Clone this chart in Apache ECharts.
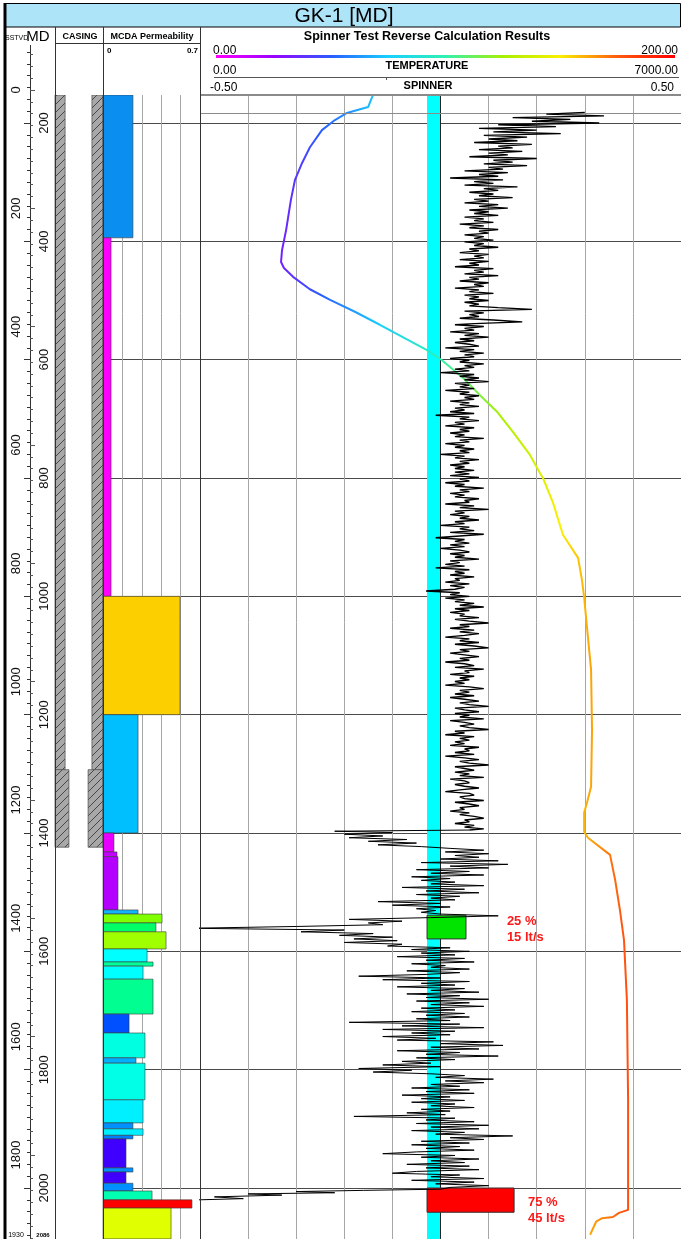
<!DOCTYPE html>
<html>
<head>
<meta charset="utf-8">
<title>GK-1 [MD]</title>
<script src="https://cdn.jsdelivr.net/npm/echarts@6/dist/echarts.min.js"></script>
<style>
  html, body { margin: 0; padding: 0; background: #fff; }
  #chart { width: 681px; height: 1239px; }
</style>
</head>
<body>
<div id="chart"></div>
<script>
// ---- depth range ----
const logTop = 152.7;
const mdBottom = 2086;
const topMarkerMD = 183;
const shoeMD = 1396;   // spinner gets noisy below the casing shoe

// casing: [top, bottom] and wall thickness as part of the column
const casingTop = [152.7, 1293];
const casingBottom = [1293, 1424];
const casingWallLeft = [0.21, 0.29];
const casingWallRight = [0.23, 0.31];

// MCDA permeability blocks (edges in MD, one value per block)
const mcdaEdges = [152.7, 394, 1000, 1200, 1400, 1432, 1440, 1530, 1537, 1552, 1567, 1596, 1618, 1625,
  1647, 1706, 1738, 1780, 1789, 1851, 1890, 1900, 1911, 1917, 1966, 1973, 1992, 2005, 2020, 2034, 2086];
const mcdaValues = [0.216, 0.058, 0.556, 0.253, 0.079, 0.101, 0.108, 0.253, 0.426, 0.382, 0.455, 0.318, 0.361, 0.289,
  0.361, 0.188, 0.303, 0.238, 0.303, 0.289, 0.216, 0.289, 0.216, 0.166, 0.216, 0.166, 0.216, 0.354, 0.642, 0.491];
const mcdaColors = ['#0a8ff0', '#ff00ff', '#fccf00', '#00bfff', '#e600ff', '#c400ff', '#b400ff', '#12b4ff', '#80ff00', '#00ff66', '#a0ff00', '#00ffff', '#00ff99', '#00ffff',
  '#00ff90', '#0050ff', '#00ffe0', '#00b0ff', '#00ffe6', '#00f0ff', '#0090ff', '#00f0ff', '#0080ff', '#4000ff', '#0090ff', '#4000ff', '#0090ff', '#00ffb0', '#ff0000', '#e0ff00'];

// flow contribution blocks on the spinner track
const cyanBand = [-0.028, 0];
const flowTop = [1539, 2000];
const flowBottom = [1579, 2041];
const flowValue = [0.053, 0.153];
const flowColors = ['#00e400', '#ff0000'];
const flowPercent = ['25 %', '75 %'];
const flowRate = ['15 lt/s', '45 lt/s'];
const flowLabelAt = [[0.138, 1550], [0.182, 2024]];

// temperature curve [MD, value]
const temperaturePoints = [
  [152.7, 71.9], [173, 69.9], [183, 61.1], [195, 56.1], [212, 50.7], [241, 45.7], [268, 42.4], [296, 39.5],
  [330, 37.8], [381, 35.8], [415, 34.1], [435, 33.7], [445, 34.9], [460, 38.7], [481, 45.7], [499, 54.1],
  [519, 64.4], [541, 74.8], [584, 94.4], [601, 100.6], [631, 109.4], [660, 116.4], [688, 123.5], [722, 130.1],
  [761, 137.2], [792, 141.4], [800, 142.6], [842, 146.8], [896, 150.9], [935, 157.2], [972, 158.8], [1001, 159.7],
  [1069, 161.3], [1124, 162.6], [1226, 163.0], [1322, 162.6], [1349, 160.9], [1366, 159.7], [1398, 159.7],
  [1408, 161.3], [1437, 170.5], [1479, 172.6], [1530, 174.6], [1581, 176.3], [1682, 177.5], [1851, 178.0],
  [2037, 178.0], [2042, 174.2], [2049, 171.7], [2051, 167.2], [2057, 164.7], [2079, 162.2]
];

// spinner curve [MD, value]
const spinnerPoints = [
  [182,0.30],[185,0.22],[188,0.34],[191,0.15],[194,0.27],[197,0.19],[200,0.33],[203,0.12],[206,0.24],[209,0.08],[212,0.20],[215,0.11],[218,0.25],[221,0.09],
  [224,0.18],[227,0.10],[230,0.16],[233,0.07],[236,0.19],[239,0.12],[242,0.15],[245,0.08],
  [248,0.17],[251,0.10],[254,0.14],[257,0.06],[260,0.20],[263,0.11],[266,0.15],[269,0.09],[272,0.18],[275,0.10],[278,0.13],[281,0.05],
  [284,0.14],[287,0.08],[290,0.12],[293,0.02],[296,0.13],[299,0.07],[302,0.11],[305,0.05],[308,0.16],[311,0.09],[314,0.12],
  [317,0.06],[320,0.11],[323,0.08],[326,0.15],[329,0.07],[332,0.10],[335,0.05],[338,0.12],[341,0.08],[344,0.14],[347,0.06],
  [350,0.10],[353,0.07],[356,0.12],[359,0.05],[362,0.09],[365,0.07],[368,0.11],[371,0.04],[374,0.09],[377,0.06],[380,0.12],[383,0.08],[386,0.10],[389,0.05],
  [392,0.09],[395,0.07],[398,0.11],
  [401,0.05],[404,0.09],[407,0.07],[410,0.12],[413,0.06],[416,0.08],[419,0.04],[422,0.10],[425,0.07],[428,0.09],[431,0.04],
  [434,0.10],[437,0.06],[440,0.08],[443,0.03],[446,0.11],[449,0.07],[452,0.09],[455,0.05],[458,0.12],[461,0.06],[464,0.08],[467,0.04],[470,0.10],[473,0.07],
  [476,0.09],[479,0.03],[482,0.08],[485,0.06],[488,0.11],[491,0.05],[494,0.08],[497,0.06],[500,0.10],
  [503,0.05],[506,0.08],[509,0.06],[512,0.12],[515,0.19],[518,0.05],[521,0.09],[524,0.06],[527,0.08],[530,0.04],[533,0.11],[536,0.17],[539,0.07],[541,0.03],
  [544,0.09],[547,0.05],[550,0.07],[553,0.02],[556,0.08],[559,0.05],[562,0.10],[565,0.04],[568,0.07],[571,0.03],[574,0.06],[577,0.08],[580,0.01],[583,0.07],
  [586,0.04],[589,0.09],[592,0.05],[595,0.07],[598,0.02],[601,0.06],
  [604,0.04],[607,0.09],[610,0.05],[613,0.07],[616,0.03],[619,0.06],[622,0.00],[625,0.07],[628,0.04],[631,0.08],[634,0.05],[637,0.10],[640,0.03],[643,0.06],
  [646,0.04],[649,0.07],[652,0.01],[655,0.06],[658,0.04],[661,0.08],[664,0.05],[667,0.07],[670,0.02],
  [673,0.06],[676,0.04],[679,0.08],[682,0.03],[685,0.05],[688,0.02],[691,0.07],[694,-0.01],[697,0.06],[700,0.04],[703,0.08],[706,0.03],[709,0.05],[712,0.01],
  [715,0.07],[718,0.04],[721,0.06],[724,0.02],[727,0.05],[730,0.03],[733,0.09],[736,0.04],[739,0.06],[742,0.01],[745,0.05],[748,0.03],[751,0.07],[754,0.04],
  [757,0.06],[760,0.00],[763,0.05],[766,0.03],[769,0.08],[772,0.04],[775,0.06],[778,0.02],[781,0.05],[784,0.03],[787,0.07],
  [790,0.03],[793,0.06],[796,0.02],[799,0.08],[802,0.04],[805,0.06],[808,0.01],[811,0.05],[814,0.03],[817,0.09],[820,0.04],[823,0.06],[826,0.02],[829,0.05],
  [832,0.03],[835,0.08],[838,0.05],[841,0.06],[844,0.01],[847,0.07],[850,0.04],[853,0.10],[856,0.03],[859,0.05],[862,0.02],[865,0.06],[868,0.04],[871,0.08],
  [874,0.03],[877,0.05],[880,0.00],[883,0.06],[886,0.04],[889,0.07],[892,0.02],[895,0.09],[898,0.04],[901,-0.01],[904,0.05],
  [907,0.03],[910,0.06],[913,0.02],[916,0.05],[919,0.00],[922,0.04],[925,0.06],[928,0.02],[931,0.05],[934,0.03],[937,0.08],[940,0.02],[943,0.04],[946,0.01],
  [949,0.05],[952,-0.01],[955,0.06],[958,0.03],[961,0.05],[964,0.02],[967,0.07],[970,0.03],[973,0.04],[976,0.01],[979,0.06],[982,0.02],[985,0.05],[988,0.03],
  [991,-0.03],[994,0.04],[997,0.02],[1000,0.06],[1003,0.01],[1006,0.05],
  [1009,0.03],[1012,0.07],[1015,0.04],[1018,0.09],[1021,0.03],[1024,0.06],[1027,0.02],[1030,0.05],[1033,0.04],[1036,0.08],[1039,0.03],[1042,0.06],[1045,0.10],
  [1048,0.04],[1051,0.06],[1054,0.02],[1057,0.07],[1060,0.04],[1063,0.08],[1066,0.05],[1069,0.01],[1072,0.06],[1075,0.04],[1078,0.08],[1081,0.03],[1084,0.07],
  [1087,0.10],[1090,0.04],[1093,0.06],[1096,0.02],[1099,0.05],[1102,0.08],[1105,0.04],[1108,0.06],[1111,0.01],[1114,0.05],[1117,0.07],[1120,0.03],[1123,0.09],
  [1126,0.05],[1129,0.06],[1132,0.02],[1135,0.07],[1138,0.04],[1141,0.06],[1144,0.03],[1147,0.05],[1150,0.01],[1153,0.06],[1156,0.09],[1159,0.04],[1162,0.06],
  [1165,0.03],[1168,0.07],[1171,0.02],[1174,0.05],[1177,0.08],[1180,0.04],[1183,0.06],[1186,0.10],[1189,0.03],[1192,0.05],
  [1195,0.08],[1198,0.03],[1201,0.06],[1204,0.04],[1207,0.09],[1210,0.02],[1213,0.05],[1216,0.07],[1219,0.04],[1222,0.06],[1225,0.10],[1228,0.03],[1231,0.05],
  [1234,0.01],[1237,0.07],[1240,0.04],[1243,0.06],[1246,0.03],[1249,0.05],[1252,0.02],[1255,0.08],[1258,0.05],[1261,0.06],[1264,0.03],[1267,0.07],[1270,0.01],
  [1273,0.05],[1276,0.08],[1279,0.04],[1282,0.06],[1285,0.10],[1288,0.03],[1291,0.05],[1294,0.07],[1297,0.03],[1300,0.06],[1303,0.04],[1306,0.09],[1309,0.02],
  [1312,0.05],[1315,0.06],[1318,0.03],[1321,0.05],[1324,0.08],[1327,0.04],[1330,0.01],[1333,0.06],[1336,0.07],[1339,0.04],[1342,0.05],[1345,0.09],[1348,0.03],
  [1351,0.06],[1354,0.08],[1357,0.04],[1360,0.05],[1363,0.02],[1366,0.06],[1369,0.04],[1372,0.07],[1375,0.09],[1378,0.05],[1381,0.06],[1384,0.03],[1387,0.07],
  [1390,0.05],[1393,0.09],[1395,0.06],
  [1397,-0.22],[1399,-0.10],[1402,-0.20],[1405,-0.12],[1408,-0.19],[1411,-0.07],[1414,-0.15],[1417,-0.05],[1420,-0.13],[1423,-0.04],[1426,0.02],[1429,0.09],
  [1432,0.01],[1435,0.10],[1438,0.03],[1441,0.08],[1444,0.00],[1447,0.12],[1450,-0.04],[1453,0.14],[1456,0.02],[1459,0.10],[1462,-0.05],[1465,0.06],[1468,-0.02],
  [1471,0.09],[1474,-0.06],[1477,0.02],[1480,-0.04],[1483,0.03],[1486,-0.02],[1489,0.09],[1492,-0.08],[1495,0.05],[1498,-0.03],[1501,0.08],[1504,-0.05],
  [1507,0.04],[1510,-0.02],[1513,0.03],[1516,-0.13],[1519,0.00],[1522,-0.10],[1525,0.02],[1528,-0.05],[1531,-0.01],[1534,-0.04],[1537,0.00],[1540,0.12],
  [1543,-0.02],[1546,-0.19],[1549,-0.08],[1552,-0.15],[1555,-0.12],[1558,-0.30],[1561,-0.52],[1564,-0.20],[1567,-0.29],[1570,-0.14],[1573,-0.21],[1576,-0.10],
  [1579,-0.18],[1582,-0.09],[1585,-0.20],[1588,-0.08],[1591,-0.11],[1594,0.02],[1597,-0.06],[1600,0.06],[1603,-0.04],[1606,0.03],[1609,-0.09],[1612,0.05],
  [1615,-0.03],[1618,0.07],[1621,-0.06],[1624,0.01],[1627,-0.02],[1630,0.06],[1633,-0.07],[1636,0.04],[1639,-0.03],[1642,-0.17],[1645,0.00],[1648,-0.12],
  [1651,0.06],[1654,-0.04],[1657,0.03],[1660,-0.09],[1663,0.05],[1666,-0.02],[1669,0.08],[1672,-0.07],[1675,0.04],[1678,-0.03],[1681,0.10],[1684,-0.05],
  [1687,0.06],[1690,-0.02],[1693,0.09],[1696,-0.04],[1699,0.03],[1702,-0.06],[1705,0.05],[1708,-0.03],[1711,0.06],[1714,-0.05],[1717,0.02],[1720,-0.19],
  [1723,0.04],[1726,-0.08],[1729,0.09],[1732,-0.12],[1735,0.03],[1738,-0.06],[1741,0.02],[1744,-0.12],[1747,-0.01],[1750,-0.09],[1753,0.11],[1756,0.00],
  [1759,0.13],[1762,-0.02],[1765,0.08],[1768,-0.09],[1771,0.04],[1774,-0.03],[1777,0.12],[1780,-0.05],[1783,0.03],[1786,-0.08],[1789,-0.02],[1792,-0.12],
  [1795,0.00],[1798,-0.17],[1801,-0.06],[1804,-0.14],[1807,-0.02],[1810,0.05],[1813,-0.01],[1816,0.11],[1819,0.01],[1822,0.09],[1825,-0.02],[1828,0.04],
  [1831,-0.06],[1834,0.06],[1837,-0.03],[1840,0.07],[1843,-0.08],[1846,0.02],[1849,-0.04],[1852,0.05],[1855,-0.06],[1858,0.03],[1861,-0.02],[1864,0.07],
  [1867,-0.04],[1870,0.02],[1873,-0.07],[1876,0.01],[1879,-0.18],[1882,0.03],[1885,-0.03],[1888,0.07],[1891,-0.05],[1894,0.10],[1897,-0.02],[1900,0.08],
  [1903,-0.06],[1906,0.05],[1909,-0.01],[1912,0.15],[1915,0.02],[1918,0.09],[1921,-0.04],[1924,0.06],[1927,-0.06],[1930,0.04],[1933,-0.03],[1936,0.07],
  [1939,-0.05],[1942,-0.12],[1945,0.03],[1948,-0.04],[1951,0.08],[1954,-0.02],[1957,0.05],[1960,-0.07],[1963,0.06],[1966,-0.03],[1969,0.08],[1972,-0.05],
  [1975,-0.10],[1978,0.04],[1981,-0.02],[1984,0.09],[1987,-0.06],[1990,0.07],[1993,-0.01],[1996,0.10],[1999,0.02],[2002,0.00],[2004,-0.16],[2006,-0.30],
  [2008,-0.22],[2010,-0.40],[2012,-0.33],[2015,-0.47],[2018,-0.41],[2021,-0.55]
];

// rainbow used for the temperature colour scale (0 - 200)
const tempColors = ['#ff00ff', '#9a00ff', '#2a5cff', '#18d0ff', '#30f0b0', '#a8f000', '#f8f000', '#ff5a10', '#ff0000'];

// ---- layout ----
const pxPerM = 1065 / 1800;          // 200 m between grid lines
const mdZeroY = 123 - 200 * pxPerM;  // where MD 0 would sit
const sstvdZeroY = 90;
const F = '"Liberation Sans", Arial, sans-serif';

const chart = echarts.init(document.getElementById('chart'), null, { renderer: 'canvas' });

// hatch pattern for casing
const hatch = document.createElement('canvas');
hatch.width = 8; hatch.height = 8;
const hctx = hatch.getContext('2d');
hctx.fillStyle = '#a8a8a8';
hctx.fillRect(0, 0, 8, 8);
hctx.strokeStyle = '#3c3c3c';
hctx.lineWidth = 0.9;
hctx.beginPath();
hctx.moveTo(0, 8); hctx.lineTo(8, 0);
hctx.moveTo(-1, 1); hctx.lineTo(1, -1);
hctx.moveTo(7, 9); hctx.lineTo(9, 7);
hctx.stroke();

function depthAxis(grid, extra) {
  return Object.assign({
    gridIndex: grid, type: 'value', inverse: true, min: 0, max: 2100,
    axisLine: { show: false }, axisTick: { show: false }, axisLabel: { show: false },
    splitLine: { show: false }
  }, extra || {});
}

function mkGrid(left, width, top, height) {
  return { left: left, width: width, top: top, height: height, containLabel: false, outerBoundsMode: 'none' };
}

const gridLineDark = { show: true, lineStyle: { color: '#4a4a4a', width: 1 } };

function txt(text, x, y, font, align, fill) {
  return { type: 'text', z: 101, silent: true,
    style: { text: text, x: x, y: y, font: font, fill: fill || '#000',
      align: align, textAlign: align, verticalAlign: 'middle', textVerticalAlign: 'middle' } };
}
function ln(x1, y1, x2, y2, color, w) {
  return { type: 'line', z: 101, silent: true, shape: { x1: x1, y1: y1, x2: x2, y2: y2 },
    style: { stroke: color, lineWidth: w } };
}
function box(x, y, w, h, fill) {
  return { type: 'rect', z: 100, silent: true, shape: { x: x, y: y, width: w, height: h }, style: { fill: fill } };
}

const spinnerCased = spinnerPoints.filter(p => p[0] <= 1395).map(p => [p[1], p[0]]);
const spinnerOpen = spinnerPoints.filter(p => p[0] >= 1395).map(p => [p[1], p[0]]);

const option = {
  animation: false,
  backgroundColor: '#fff',
  grid: [
    mkGrid(30, 25, sstvdZeroY - 200 * pxPerM, 2200 * pxPerM),
    mkGrid(30, 25, mdZeroY, 2100 * pxPerM),
    mkGrid(55, 48, mdZeroY, 2100 * pxPerM),
    mkGrid(103, 97, mdZeroY, 2100 * pxPerM),
    mkGrid(200, 481, mdZeroY, 2100 * pxPerM)
  ],
  xAxis: [
    { gridIndex: 0, type: 'value', show: false, min: 0, max: 1 },
    { gridIndex: 1, type: 'value', show: false, min: 0, max: 1 },
    { gridIndex: 2, type: 'value', show: false, min: 0, max: 1 },
    { gridIndex: 3, type: 'value', min: 0, max: 0.7, interval: 0.14,
      axisLine: { show: false }, axisTick: { show: false }, axisLabel: { show: false },
      splitLine: { show: true, lineStyle: { color: '#a6a6a6', width: 1 } } },
    { gridIndex: 4, type: 'value', min: -0.5, max: 0.5, interval: 0.1,
      axisLine: { show: false }, axisTick: { show: false }, axisLabel: { show: false },
      splitLine: { show: true, lineStyle: { color: '#a6a6a6', width: 1 } } },
    { gridIndex: 4, type: 'value', show: false, min: 0, max: 200 }
  ],
  yAxis: [
    { gridIndex: 0, type: 'value', inverse: true, min: -200, max: 2000, interval: 200, position: 'left',
      axisLine: { show: true, lineStyle: { color: '#555', width: 1 } },
      axisTick: { show: true, inside: true, length: 5, lineStyle: { color: '#555' } },
      minorTick: { show: true, splitNumber: 10, length: 3, lineStyle: { color: '#555' } },
      axisLabel: { rotate: 90, margin: 7, fontSize: 13, fontFamily: F, color: '#111',
        showMinLabel: false, showMaxLabel: false, formatter: v => String(v) },
      splitLine: { show: false } },
    { gridIndex: 1, type: 'value', inverse: true, min: 0, max: 2100, interval: 200, position: 'right',
      axisLine: { show: true, lineStyle: { color: '#333', width: 1 } },
      axisTick: { show: true, inside: true, length: 6, lineStyle: { color: '#333' } },
      minorTick: { show: true, splitNumber: 10, length: 3, lineStyle: { color: '#333' } },
      axisLabel: { inside: true, rotate: 90, margin: 4, fontSize: 13, fontFamily: F, color: '#111',
        showMinLabel: false, showMaxLabel: false, formatter: v => String(v) },
      splitLine: { show: false } },
    depthAxis(2),
    depthAxis(3, { interval: 200, splitLine: gridLineDark }),
    depthAxis(4, { interval: 200, splitLine: gridLineDark })
  ],
  visualMap: [{
    show: false, type: 'continuous', seriesIndex: 4, dimension: 0,
    min: 0, max: 200, inRange: { color: tempColors }
  }],
  series: [
    { // casing
      type: 'custom', xAxisIndex: 2, yAxisIndex: 2, silent: true,
      data: casingTop.map((t, i) => [t, casingBottom[i], casingWallLeft[i], casingWallRight[i]]),
      encode: { y: [0, 1] },
      renderItem: function (params, api) {
        const a = api.coord([0, api.value(0)]);
        const b = api.coord([1, api.value(1)]);
        const w = b[0] - a[0];
        const wl = w * api.value(2), wr = w * api.value(3);
        const st = { fill: { image: hatch, repeat: 'repeat' }, stroke: '#555', lineWidth: 0.8 };
        return { type: 'group', children: [
          { type: 'rect', shape: { x: a[0], y: a[1], width: wl, height: b[1] - a[1] }, style: st },
          { type: 'rect', shape: { x: b[0] - wr, y: a[1], width: wr, height: b[1] - a[1] }, style: st }
        ] };
      }
    },
    { // MCDA permeability
      type: 'custom', xAxisIndex: 3, yAxisIndex: 3, silent: true,
      data: mcdaValues.map((v, i) => [mcdaEdges[i], mcdaEdges[i + 1], v]),
      encode: { x: 2, y: [0, 1] },
      renderItem: function (params, api) {
        const a = api.coord([0, api.value(0)]);
        const b = api.coord([api.value(2), api.value(1)]);
        return { type: 'rect', shape: { x: a[0], y: a[1], width: b[0] - a[0], height: b[1] - a[1] },
          style: { fill: mcdaColors[params.dataIndex], stroke: '#3a3a3a', lineWidth: 0.6 } };
      }
    },
    { // cyan band
      type: 'custom', xAxisIndex: 4, yAxisIndex: 4, silent: true, z: 2,
      data: [[cyanBand[0], cyanBand[1], logTop, mdBottom]],
      renderItem: function (params, api) {
        const a = api.coord([api.value(0), api.value(2)]);
        const b = api.coord([api.value(1), api.value(3)]);
        return { type: 'group', children: [
          { type: 'rect', shape: { x: a[0], y: a[1], width: b[0] - a[0], height: b[1] - a[1] }, style: { fill: '#00ffff' } },
          { type: 'line', shape: { x1: b[0], y1: a[1], x2: b[0], y2: b[1] }, style: { stroke: '#222', lineWidth: 1 } }
        ] };
      }
    },
    { // flow blocks
      type: 'custom', xAxisIndex: 4, yAxisIndex: 4, silent: true, z: 3,
      data: flowTop.map((t, i) => [t, flowBottom[i], flowValue[i]]),
      encode: { x: 2, y: [0, 1] },
      renderItem: function (params, api) {
        const i = params.dataIndex;
        const a = api.coord([cyanBand[0], api.value(0)]);
        const b = api.coord([api.value(2), api.value(1)]);
        const l = api.coord(flowLabelAt[i]);
        const font = 'bold 13px ' + F;
        return { type: 'group', children: [
          { type: 'rect', shape: { x: a[0], y: a[1], width: b[0] - a[0], height: b[1] - a[1] },
            style: { fill: flowColors[i], stroke: '#333', lineWidth: 1 } },
          { type: 'text', z2: 10, style: { text: flowPercent[i], x: l[0], y: l[1], font: font, fill: '#ff1a1a',
            align: 'left', textAlign: 'left', verticalAlign: 'middle', textVerticalAlign: 'middle' } },
          { type: 'text', z2: 10, style: { text: flowRate[i], x: l[0], y: l[1] + 16, font: font, fill: '#ff1a1a',
            align: 'left', textAlign: 'left', verticalAlign: 'middle', textVerticalAlign: 'middle' } }
        ] };
      }
    },
    { // temperature
      type: 'line', xAxisIndex: 5, yAxisIndex: 4, z: 4, silent: true,
      showSymbol: false, symbol: 'none',
      lineStyle: { width: 2 },
      data: temperaturePoints.map(p => [p[1], p[0]])
    },
    { // spinner, cased section (dense trace)
      type: 'line', xAxisIndex: 4, yAxisIndex: 4, z: 5, silent: true,
      showSymbol: false, symbol: 'none',
      lineStyle: { width: 1.35, color: '#000' },
      data: spinnerCased,
      markLine: { silent: true, symbol: 'none', label: { show: false },
        lineStyle: { color: '#8c8c8c', width: 1, type: 'solid' },
        data: [{ yAxis: topMarkerMD }] }
    },
    { // spinner, open hole
      type: 'line', xAxisIndex: 4, yAxisIndex: 4, z: 5, silent: true,
      showSymbol: false, symbol: 'none',
      lineStyle: { width: 1, color: '#000' },
      data: spinnerOpen
    }
  ],
  graphic: { elements: [
    box(0, 0, 681, 45, '#fff'),
    box(55, 0, 626, 95, '#fff'),
    { type: 'rect', z: 100, silent: true, shape: { x: 5.5, y: 3.5, width: 675, height: 23.5 },
      style: { fill: '#aee4f8', stroke: '#000', lineWidth: 1 } },
    txt('GK-1 [MD]', 344, 16, '21px ' + F, 'center'),
    txt('SSTVD', 5, 38, '7px ' + F, 'left'),
    txt('MD', 38, 37, '15px ' + F, 'center'),
    txt('CASING', 80, 37, 'bold 9px ' + F, 'center'),
    txt('MCDA Permeability', 152, 37, 'bold 9px ' + F, 'center'),
    txt('0', 107, 51, 'bold 8px ' + F, 'left'),
    txt('0.7', 198, 51, 'bold 8px ' + F, 'right'),
    txt('Spinner Test Reverse Calculation Results', 427, 37, 'bold 12.5px ' + F, 'center'),
    txt('0.00', 213, 51, '12px ' + F, 'left'),
    txt('200.00', 678, 51, '12px ' + F, 'right'),
    { type: 'rect', z: 101, silent: true, shape: { x: 216, y: 55, width: 459, height: 3 },
      style: { fill: new echarts.graphic.LinearGradient(0, 0, 1, 0,
        tempColors.map((c, i) => ({ offset: i / (tempColors.length - 1), color: c }))) } },
    txt('0.00', 213, 71, '12px ' + F, 'left'),
    txt('TEMPERATURE', 427, 66, 'bold 11px ' + F, 'center'),
    txt('7000.00', 678, 71, '12px ' + F, 'right'),
    ln(214, 77.5, 679, 77.5, '#555', 1),
    ln(386.5, 77.5, 386.5, 80, '#555', 1),
    txt('-0.50', 210, 88, '12px ' + F, 'left'),
    txt('SPINNER', 428, 86, 'bold 11px ' + F, 'center'),
    txt('0.50', 674, 88, '12px ' + F, 'right'),
    ln(200, 95, 681, 95, '#8a8a8a', 2),
    ln(55.5, 27, 55.5, 1239, '#333', 1),
    ln(103.5, 27, 103.5, 1239, '#333', 1),
    ln(200.5, 27, 200.5, 1239, '#333', 1),
    ln(55, 43.5, 200, 43.5, '#333', 1),
    ln(5, 3, 5, 1239, '#000', 3),
    txt('1930', 16, 1235, '7px ' + F, 'center'),
    txt('2086', 43, 1235, 'bold 6px ' + F, 'center')
  ] }
};

chart.setOption(option);
</script>
</body>
</html>
